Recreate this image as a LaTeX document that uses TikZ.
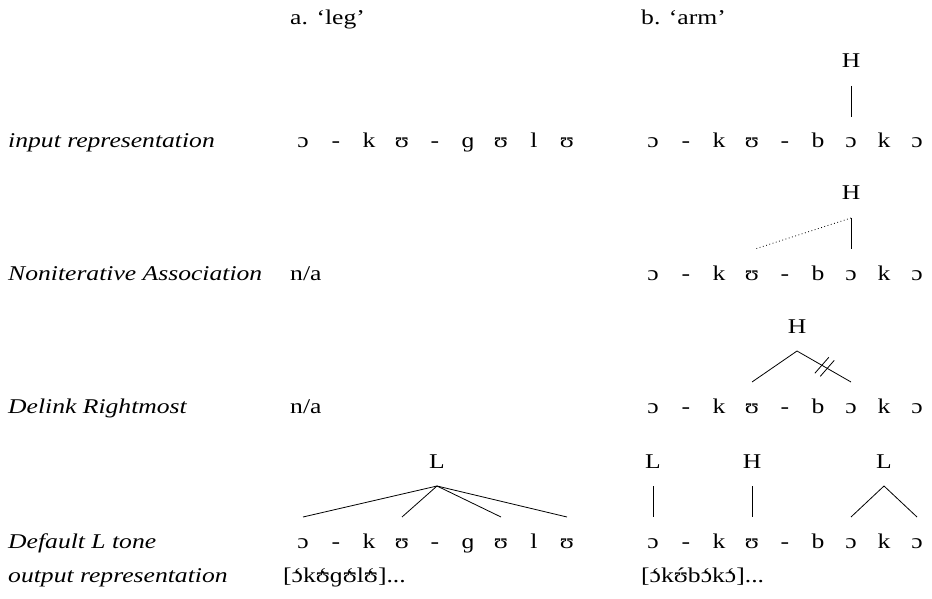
\documentclass[tikz,border=0pt]{standalone}
\usepackage{fontspec}
\setmainfont{Liberation Serif}[FakeStretch=1.22]
\usetikzlibrary{calc}
\newcommand\grv[1]{{\accent"0060 #1}}
\newcommand\acu[1]{{\accent"00B4 #1}}
\begin{document}
\begin{tikzpicture}[x=1pt,y=-1pt,
  every node/.style={inner sep=0pt, anchor=base, font=\fontsize{21}{25}\selectfont},
  lab/.style={anchor=base west, font=\fontsize{21}{25}\selectfont\itshape},
  txt/.style={anchor=base west},
  assoc/.style={line width=0.8pt},
  floating/.style={line width=0.8pt, dash pattern=on 0.8pt off 2.6pt}]
\useasboundingbox (0,0) rectangle (932,599);

% headers
\node[txt] (ha) at (290,25) {a. ‘leg’};
\node[txt] (hb) at (641,25) {b. ‘arm’};

% row labels
\node[lab] (l1) at (8,148) {input representation};
\node[lab] (l2) at (8,280) {Noniterative Association};
\node[lab] (l3) at (8,413) {Delink Rightmost};
\node[lab] (l4) at (8,548) {Default L tone};
\node[lab] (l5) at (8,582) {output representation};

% input representation
\foreach \c [count=\i] in {ɔ,-,k,ʊ,-,ɡ,ʊ,l,ʊ} {\node (ia\i) at ({303+33*(\i-1)},148) {\c};}
\foreach \c [count=\i] in {ɔ,-,k,ʊ,-,b,ɔ,k,ɔ} {\node (ib\i) at ({653+33*(\i-1)},148) {\c};}
\node (iH) at (851,68) {H};
\draw[assoc] ($(iH.base)+(0,18)$) -- ($(ib7.base)+(0,-31)$);

% noniterative association
\node[txt] (na) at (290,280) {n/a};
\foreach \c [count=\i] in {ɔ,-,k,ʊ,-,b,ɔ,k,ɔ} {\node (nb\i) at ({653+33*(\i-1)},280) {\c};}
\node (nH) at (851,200) {H};
\coordinate (ntop) at ($(nH.base)+(0,18)$);
\draw[assoc] (ntop) -- ($(nb7.base)+(0,-31)$);
\draw[floating] (ntop) -- ($(nb4.base)+(3,-31)$);

% delink rightmost
\node[txt] (da) at (290,413) {n/a};
\foreach \c [count=\i] in {ɔ,-,k,ʊ,-,b,ɔ,k,ɔ} {\node (db\i) at ({653+33*(\i-1)},413) {\c};}
\node (dH) at (797,333) {H};
\coordinate (dapex) at ($(dH.base)+(0,18)$);
\coordinate (dR) at ($(db7.base)+(0,-31)$);
\draw[assoc] (dapex) -- ($(db4.base)+(0,-31)$);
\draw[assoc] (dapex) -- (dR);
\draw[assoc] ($(dapex)!0.46!(dR)$) ++(-7,8) -- ++(14,-16);
\draw[assoc] ($(dapex)!0.56!(dR)$) ++(-7,8) -- ++(14,-16);

% default L tone
\foreach \c [count=\i] in {ɔ,-,k,ʊ,-,ɡ,ʊ,l,ʊ} {\node (la\i) at ({303+33*(\i-1)},548) {\c};}
\foreach \c [count=\i] in {ɔ,-,k,ʊ,-,b,ɔ,k,ɔ} {\node (lb\i) at ({653+33*(\i-1)},548) {\c};}
\node (aL) at (437,468) {L};
\coordinate (aapex) at ($(aL.base)+(0,18)$);
\foreach \j in {1,4,7,9} {\draw[assoc] (aapex) -- ($(la\j.base)+(0,-31)$);}
\node (bL1) at (653,468) {L};
\node (bH) at (752,468) {H};
\node (bL2) at (884,468) {L};
\draw[assoc] ($(bL1.base)+(0,18)$) -- ($(lb1.base)+(0,-31)$);
\draw[assoc] ($(bH.base)+(0,18)$) -- ($(lb4.base)+(0,-31)$);
\coordinate (bapex) at ($(bL2.base)+(0,18)$);
\draw[assoc] (bapex) -- ($(lb7.base)+(0,-31)$);
\draw[assoc] (bapex) -- ($(lb9.base)+(0,-31)$);

% output representation
\node[txt] (oa) at (283,582) {[\grv{ɔ}k\grv{ʊ}ɡ\grv{ʊ}l\grv{ʊ}]...};
\node[txt] (ob) at (641,582) {[\grv{ɔ}k\acu{ʊ}b\grv{ɔ}k\grv{ɔ}]...};
\end{tikzpicture}
\end{document}
